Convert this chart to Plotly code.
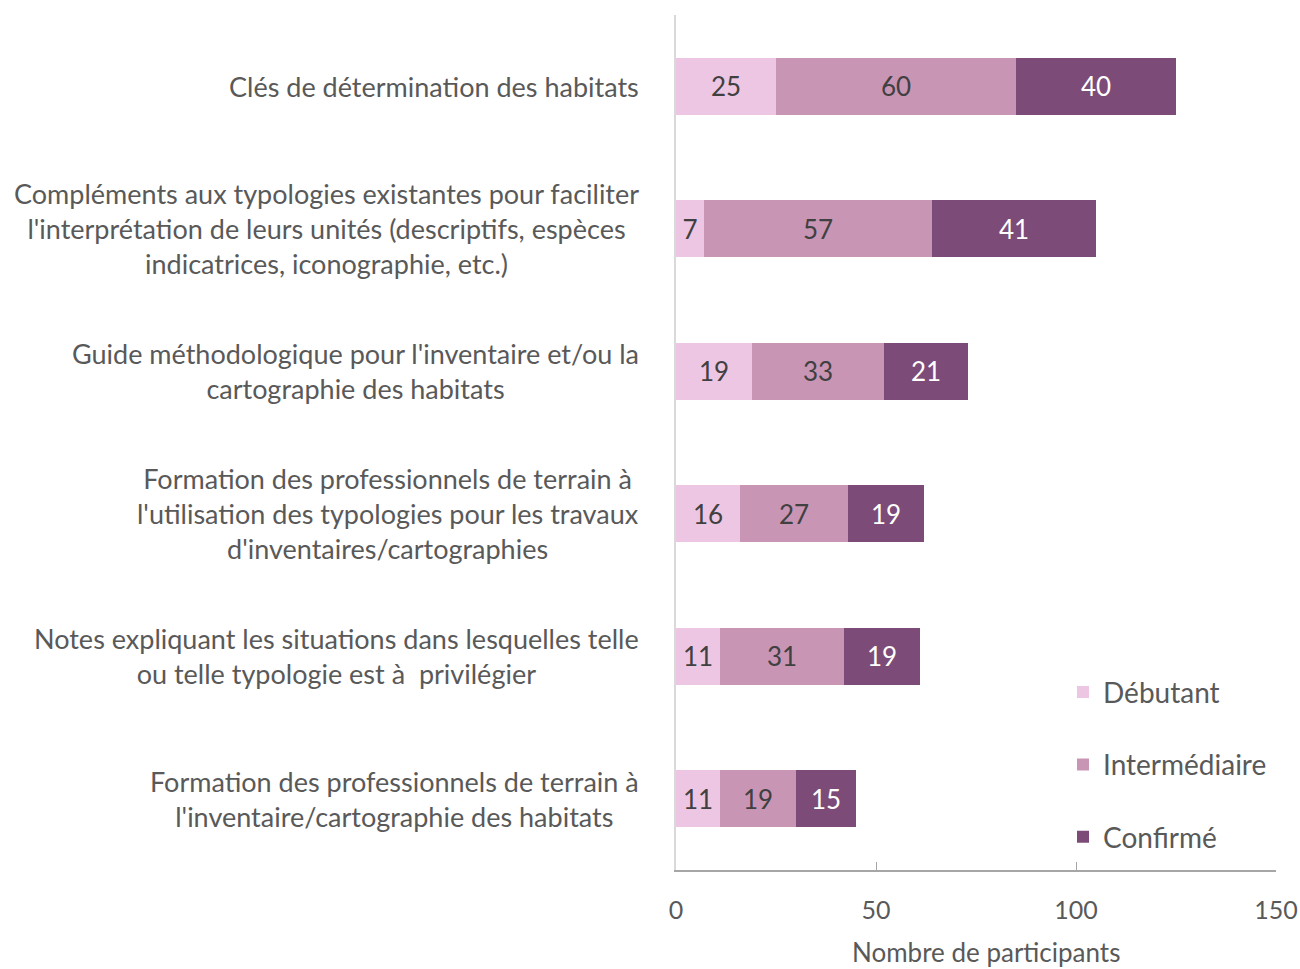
import plotly.graph_objects as go

categories = [
    "Clés de détermination des habitats",
    "Compléments aux typologies existantes pour faciliter<br>l'interprétation de leurs unités (descriptifs, espèces<br>indicatrices, iconographie, etc.)",
    "Guide méthodologique pour l'inventaire et/ou la<br>cartographie des habitats",
    "Formation des professionnels de terrain à<br>l'utilisation des typologies pour les travaux<br>d'inventaires/cartographies",
    "Notes expliquant les situations dans lesquelles telle<br>ou telle typologie est à  privilégier",
    "Formation des professionnels de terrain à<br>l'inventaire/cartographie des habitats",
]
debutant = [25, 7, 19, 16, 11, 11]
intermediaire = [60, 57, 33, 27, 31, 19]
confirme = [40, 41, 21, 19, 19, 15]

series = [
    ("Débutant", debutant, "#EDC6E3", "#404040"),
    ("Intermédiaire", intermediaire, "#C995B5", "#404040"),
    ("Confirmé", confirme, "#7C4B78", "white"),
]

FONT = "Lato"
GREY = "#595959"
fig = go.Figure()
for i, (name, vals, col, tcol) in enumerate(series):
    fig.add_trace(go.Bar(
        y=categories, x=vals, name=name, orientation="h",
        marker=dict(color=col, line=dict(width=0)),
        text=vals, textposition="inside", insidetextanchor="middle",
        textfont=dict(color=tcol, size=26, family=FONT),
        legendgroup=str(i), width=0.4,
    ))

# category labels as annotations so lines are centred
for c in categories:
    fig.add_annotation(
        x=0, xref="paper", y=c, yref="y", xanchor="right", xshift=-35,
        text=c, showarrow=False, align="center",
        font=dict(size=27, color=GREY, family=FONT),
    )

# x axis title
fig.add_annotation(
    x=0.517, xref="paper", y=0, yref="paper", yshift=-82,
    xanchor="center", yanchor="middle", showarrow=False,
    text="Nombre de participants",
    font=dict(size=26, color=GREY, family=FONT),
)

fig.update_layout(
    width=1300, height=969,
    barmode="stack",
    plot_bgcolor="white", paper_bgcolor="white",
    margin=dict(l=676, r=24, t=15, b=99, autoexpand=False),
    uniformtext=dict(mode="show", minsize=10),
    legend=dict(
        x=0.645, y=0.237, xanchor="left", yanchor="top",
        traceorder="grouped", tracegroupgap=33,
        font=dict(size=28, color=GREY, family=FONT),
        bgcolor="rgba(0,0,0,0)",
    ),
    font=dict(family=FONT, color=GREY),
)
fig.update_xaxes(
    range=[0, 150], tickvals=[0, 50, 100, 150], automargin=False,
    showgrid=False, zeroline=False,
    showline=True, linecolor="#A6A6A6", linewidth=1.5,
    ticks="inside", ticklen=8, tickcolor="#A6A6A6",
    tickfont=dict(size=25, color=GREY, family=FONT),
    ticklabelstandoff=17,
)
fig.update_yaxes(
    autorange="reversed", showticklabels=False, automargin=False,
    showgrid=False, zeroline=False,
    showline=True, linecolor="#D9D9D9", linewidth=2,
)

# drop the default page margin so the figure fills the window exactly
fig.write_html("out.html", config={"displayModeBar": False},
               post_script="document.body.style.margin='0';document.body.style.overflow='hidden';")
